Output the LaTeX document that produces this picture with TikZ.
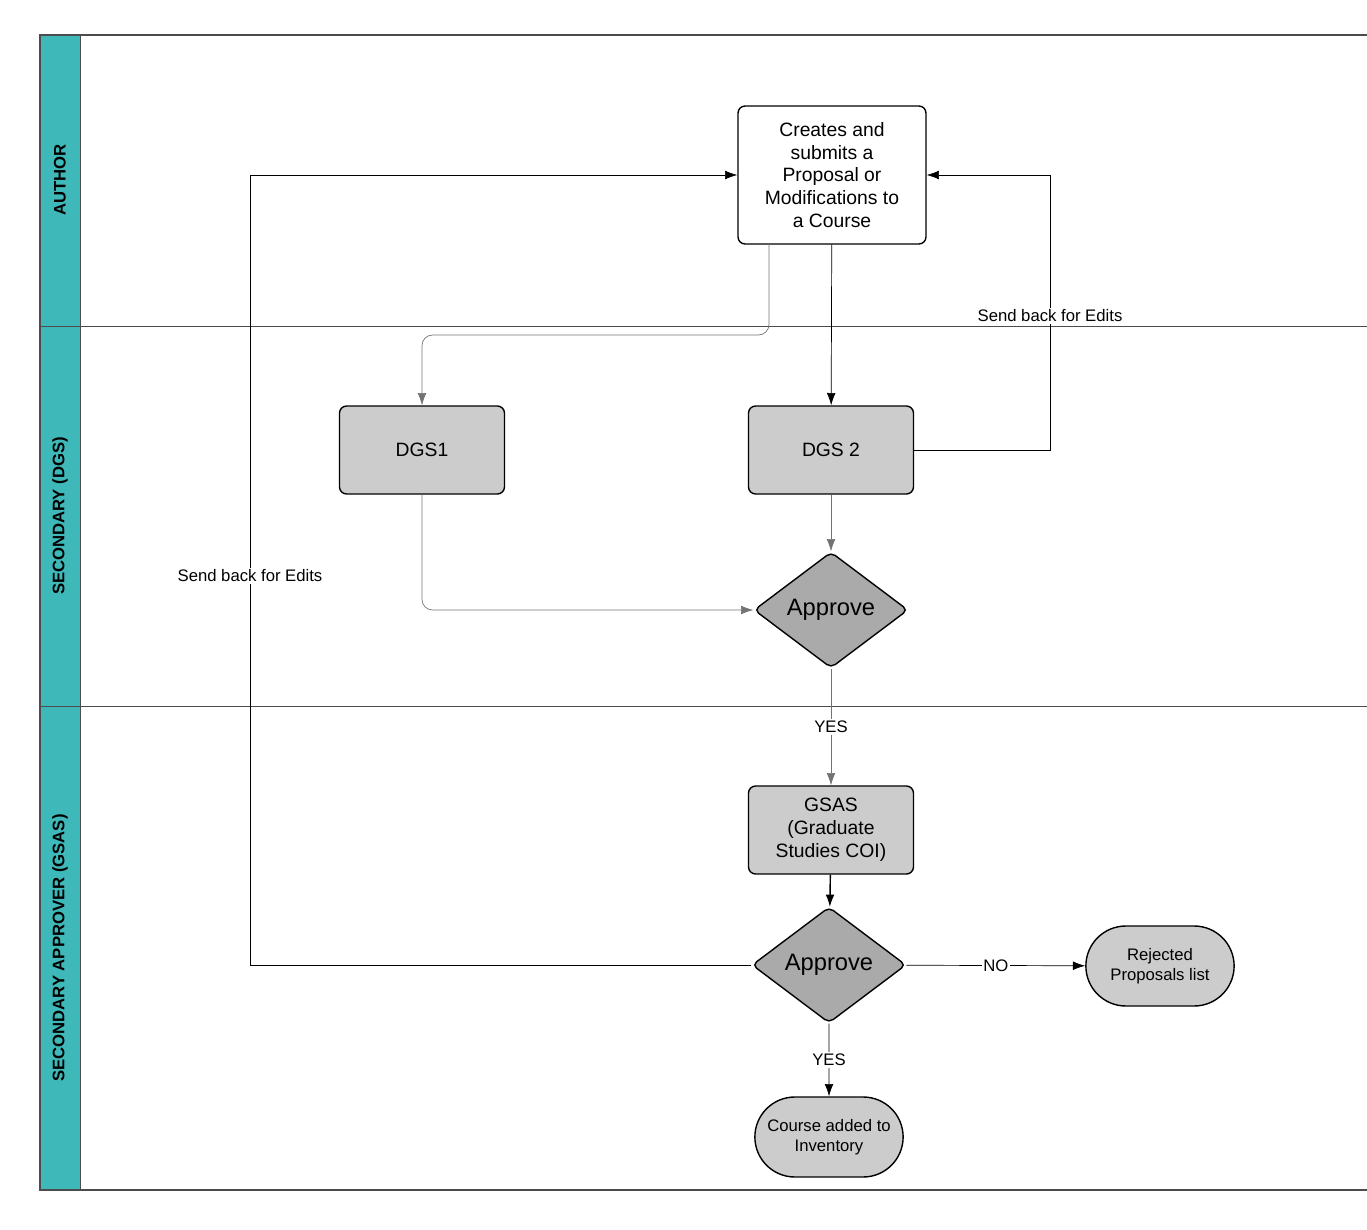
\documentclass[tikz,border=0pt]{standalone}
\usepackage{fontspec}
\setmainfont{Liberation Sans}
\usetikzlibrary{shapes.geometric,shapes.misc,arrows.meta}
\definecolor{lane}{HTML}{3EB8B8}
\definecolor{boxfill}{HTML}{CCCCCC}
\definecolor{dfill}{HTML}{AAAAAA}
\tikzset{
  proc/.style={draw, thick, rounded corners=4pt, fill=boxfill, minimum width=3.3cm, minimum height=1.76cm, align=center, font=\fontsize{11}{13}\selectfont},
  dec/.style={draw, thick, diamond, fill=dfill, minimum width=3.08cm, minimum height=2.32cm, inner sep=0pt, rounded corners=3pt, font=\fontsize{13.5}{15}\selectfont},
  term/.style={draw, thick, rounded rectangle, fill=boxfill, minimum width=3.2cm, minimum height=1.6cm, align=center, font=\fontsize{9.5}{11.5}\selectfont},
  lbl/.style={fill=white, inner sep=1pt, font=\fontsize{9.5}{11}\selectfont},
  flow/.style={-{Latex[length=7pt,width=5pt]}},
  grayflow/.style={flow, draw=black!55}
}
\begin{document}
\begin{tikzpicture}[x=0.02cm,y=-0.02cm]
\useasboundingbox (0,0) rectangle (1367,1230);
% lanes
\fill[lane] (40,35) rectangle (80,1190);
\draw[black!70, thick] (1367,35) -- (40,35) -- (40,1190) -- (1367,1190);
\draw[black!70] (80,35) -- (80,1190);
\draw[black!70] (40,326) -- (1367,326);
\draw[black!70] (40,706) -- (1367,706);
\node[rotate=90, font=\bfseries\fontsize{9.5}{11}\selectfont] (lauthor) at (60,180) {AUTHOR};
\node[rotate=90, font=\bfseries\fontsize{9.5}{11}\selectfont] (ldgs) at (60,516) {SECONDARY (DGS)};
\node[rotate=90, font=\bfseries\fontsize{9.5}{11}\selectfont] (lgsas) at (60,948) {SECONDARY APPROVER (GSAS)};

% Define nodes
\node[proc, fill=white, minimum width=3.76cm, minimum height=2.76cm] (create) at (832,175) {Creates and\\submits a\\Proposal or\\Modifications to\\a Course};
\node[proc] (dgs1) at (422,450) {DGS1};
\node[proc] (dgs2) at (831,450) {DGS 2};
\node[dec]  (appr1) at (831,610) {Approve};
\node[proc] (gsas) at (831,830) {GSAS\\(Graduate\\Studies COI)};
\node[dec]  (appr2) at (829,965) {Approve};
\node[term] (reject) at (1160,966) {Rejected\\Proposals list};
\node[term] (added) at (829,1137) {Course added to\\Inventory};
\coordinate (c1) at (769,244);

% Connect the nodes
\draw[flow] (create) -- (dgs2);
\draw[grayflow, rounded corners=6pt] (c1) |- (422,335) -- (dgs1);
\draw[flow] (dgs2.east) -- (1050,450) -- (1050,175) -- (create.east);
\node[lbl] (sb1) at (1050,316) {Send back for Edits};
\draw[grayflow] (dgs2) -- (appr1);
\draw[grayflow, rounded corners=6pt] (dgs1) |- (appr1.west);
\draw[grayflow] (appr1) -- node[lbl, pos=0.5] {YES} (gsas);
\draw[flow, thick] (gsas) -- (appr2);
\draw[flow] (appr2.west) -- (250,965) -- (250,175) -- (create.west);
\node[lbl] (sb2) at (250,576) {Send back for Edits};
\draw[flow] (appr2) -- node[lbl, pos=0.5] {NO} (reject);
\draw[flow] (appr2) -- node[lbl, pos=0.5] {YES} (added);
\end{tikzpicture}
\end{document}
